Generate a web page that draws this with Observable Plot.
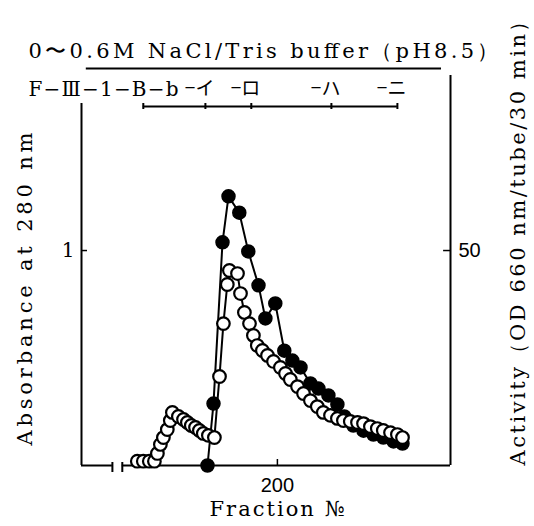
<!DOCTYPE html>
<html><head><meta charset="utf-8">
<script src="https://cdn.jsdelivr.net/npm/d3@7"></script>
<script src="https://cdn.jsdelivr.net/npm/@observablehq/plot@0.6"></script>
<style>body{margin:0;background:#fff}</style>
</head><body><div id="chart"></div>
<script>
// Absorbance at 280 nm (open circles)
const fractionA = [153.3,155.3,157.3,159,160,161,162,163.3,164.3,165,167,168.7,170,171.3,172.7,174,175.3,177,179,180.7,182,183.3,184,186.7,187.7,189,190.7,192,193.3,195,196.7,198.7,201,202.7,204.3,206.7,208.7,211,213.3,215.3,217.7,220,222,224.3,226.7,228.7,231,233.3,235.3,237.7,240,241.7];
const absorbance = [0.02,0.02,0.02,0.02,0.056,0.098,0.13,0.167,0.209,0.247,0.228,0.214,0.2,0.186,0.177,0.163,0.149,0.14,0.13,0.414,0.66,0.842,0.907,0.893,0.8,0.712,0.66,0.605,0.558,0.535,0.512,0.484,0.456,0.428,0.4,0.367,0.335,0.302,0.274,0.247,0.233,0.219,0.209,0.205,0.2,0.195,0.181,0.172,0.163,0.153,0.144,0.13];
// Activity (filled circles)
const fractionB = [176.7,178.7,181.7,183.7,187.3,190.3,193.7,196,199.3,202.3,205,207.7,211,213.7,217,220,222.3,225.3,228.7,232,235.3,238.7,241.7];
const activity = [0,14.4,51.9,62.6,58.8,49.8,41.9,34.2,37.7,26.7,24.4,22.8,19.1,17.9,16.3,14.2,11.4,9.3,8.1,7.2,6.5,5.6,5.1];
// Axis ticks
const xTicks = [200];
const absTicks = [1];
const actTicks = [50];
const actPerAbs = 50; // 50 activity units at the height of absorbance 1
// Header: pooled fraction ranges
const poolBounds = [155.3, 176, 191.3, 218, 240];
const poolLabels = ["−イ", "−ロ", "−ハ", "−ニ"];
const chainLabel = "F−Ⅲ−1−B−b";
const gradientLabel = "0〜0.6M NaCl/Tris buffer（pH8.5）";
const gradientSpan = [136.3, 254.7];
const xLabel = "Fraction №";
const yLabelLeft = "Absorbance at 280 nm";
const yLabelRight = "Activity（OD 660 nm/tube/30 min）";
const xDomain = [134.7, 257.7];
const xBreak = [145, 148.3];

const A = fractionA.map((f, i) => ({f, v: absorbance[i]}));
const B = fractionB.map((f, i) => ({f, v: activity[i] / actPerAbs}));
const pools = poolLabels.map((label, i) => ({end: poolBounds[i + 1], label}));

const serif = "'DejaVu Serif', 'Liberation Serif', serif";
const sans = "'Liberation Sans', Arial, sans-serif";
const yTop = 1.884;
const px = 215; // pixels per absorbance unit (for tiny tick lengths)

const chart = Plot.plot({
  width: 534, height: 526,
  marginLeft: 81, marginRight: 84, marginTop: 60, marginBottom: 61,
  x: {domain: xDomain},
  y: {domain: [0, yTop]},
  style: {background: "#fff", color: "#000"},
  marks: [
    // axes frame
    Plot.ruleX([xDomain[0]], {y1: 0, y2: 1.684, strokeWidth: 2}),
    Plot.ruleX([xDomain[1]], {y1: 0, y2: 1.814, strokeWidth: 2}),
    Plot.ruleY([0], {x1: xDomain[0], x2: xBreak[0], strokeWidth: 2}),
    Plot.ruleY([0], {x1: xBreak[1], x2: xDomain[1], strokeWidth: 2}),
    Plot.ruleX(xBreak, {y1: -7 / px, y2: 3 / px, strokeWidth: 2}),
    Plot.ruleX(xTicks, {y1: 0, y2: 6 / px, strokeWidth: 1.5}),
    Plot.ruleY(absTicks, {x1: xDomain[0], x2: xDomain[0] + 2, strokeWidth: 1.5}),
    Plot.ruleY(actTicks.map(d => d / actPerAbs), {x1: xDomain[1] - 2.3, x2: xDomain[1], strokeWidth: 1.5}),
    Plot.axisX(xTicks, {tickSize: 0, tickPadding: 12, fontSize: 20, fontFamily: sans, label: null}),
    Plot.axisY(absTicks, {anchor: "left", tickSize: 0, tickPadding: 7, fontSize: 20, fontFamily: serif, label: null, tickFormat: d => String(d)}),
    Plot.axisY(actTicks.map(d => d / actPerAbs), {anchor: "right", tickSize: 0, tickPadding: 8, fontSize: 20, fontFamily: sans, label: null, tickFormat: d => String(Math.round(d * actPerAbs))}),
    // axis titles
    Plot.text([xLabel], {frameAnchor: "bottom", textAnchor: "middle", dx: 11, dy: 50, fontSize: 21, fontFamily: serif}),
    Plot.text([yLabelLeft], {frameAnchor: "left", textAnchor: "middle", rotate: -90, dx: -56, dy: 26, fontSize: 21, fontFamily: serif}),
    Plot.text([yLabelRight], {frameAnchor: "right", textAnchor: "middle", rotate: -90, dx: 68, dy: -25, fontSize: 21, fontFamily: serif}),
    // header
    Plot.text([gradientLabel], {frameAnchor: "top-left", dx: -53, dy: -17, textAnchor: "start", fontSize: 21, fontFamily: serif}),
    Plot.ruleY([1.847], {x1: gradientSpan[0], x2: gradientSpan[1], strokeWidth: 2}),
    Plot.text([chainLabel], {frameAnchor: "top-left", dx: -53, dy: 21, textAnchor: "start", fontSize: 20, fontFamily: serif}),
    Plot.text(pools, {x: "end", text: "label", frameAnchor: "top", dx: 9, dy: 21, textAnchor: "end", fontSize: 19, fontFamily: "'Noto Sans CJK JP', sans-serif"}),
    Plot.ruleY([1.67], {x1: poolBounds[0], x2: poolBounds[poolBounds.length - 1], strokeWidth: 2}),
    Plot.ruleX(poolBounds, {y1: 1.67 - 3 / px, y2: 1.67 + 3 / px, strokeWidth: 2}),
    // activity (filled)
    Plot.line(B, {x: "f", y: "v", stroke: "#000", strokeWidth: 2}),
    Plot.dot(B, {x: "f", y: "v", r: 6.5, fill: "#000", stroke: "#000"}),
    // absorbance (open)
    Plot.line(A, {x: "f", y: "v", stroke: "#000", strokeWidth: 2}),
    Plot.dot(A, {x: "f", y: "v", r: 6.3, fill: "#fff", stroke: "#000", strokeWidth: 2.2})
  ]
});
// stretch the wide, letter-spaced typesetting of the original
const spread = new Map([[gradientLabel, 470], [chainLabel, 150], [xLabel, 135], [yLabelLeft, 313], [yLabelRight, 455]]);
d3.select(chart).selectAll("text").each(function() {
  const w = spread.get(this.textContent);
  if (w) d3.select(this).attr("textLength", w).attr("lengthAdjust", "spacing");
});
document.getElementById("chart").appendChild(chart);
</script>
</body></html>
